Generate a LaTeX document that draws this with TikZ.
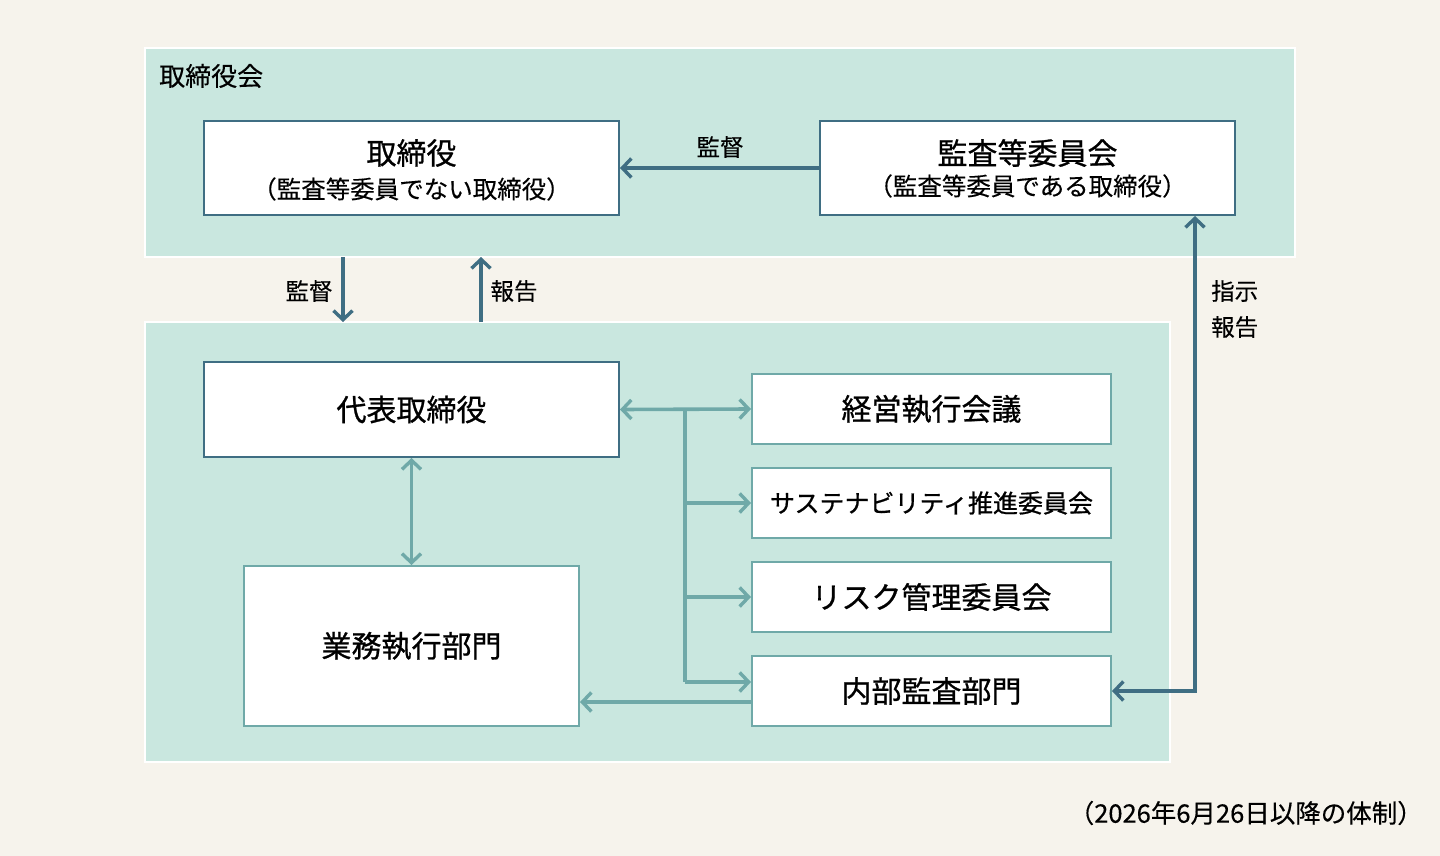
\documentclass[tikz,border=0pt]{standalone}
\usepackage{fontspec}
\setmainfont{Noto Sans CJK JP}
\newfontfamily\medfont{Noto Sans CJK JP}[FakeBold=0.8]
\newfontfamily\lblfont{Noto Sans CJK JP}[FakeBold=0.3]
\usetikzlibrary{arrows.meta}
\definecolor{bgc}{HTML}{F6F3EC}
\definecolor{panel}{HTML}{C9E7DF}
\definecolor{dblue}{HTML}{3F6E83}
\definecolor{teal}{HTML}{6FA9A8}
\tikzset{
  panelbox/.style={fill=panel,draw=white,line width=2pt},
  dbox/.style={draw=dblue,fill=white,line width=2pt,inner sep=0pt},
  tbox/.style={draw=teal,fill=white,line width=2pt,inner sep=0pt},
  dtip/.tip={Straight Barb[length=9pt,width=19pt,line width=3.4pt]},
  ttip/.tip={Straight Barb[length=9pt,width=19pt,line width=3.4pt]},
  darr/.style={draw=dblue,line width=3.6pt,-dtip},
  tarr/.style={draw=teal,line width=3.6pt,-ttip},
  lbl/.style={font=\lblfont\fontsize{23.5}{26}\selectfont,inner sep=0pt},
  sub/.style={font=\lblfont\fontsize{24.5}{26}\selectfont,inner sep=0pt},
  big/.style={font=\medfont\fontsize{30}{32}\selectfont,inner sep=0pt},
}
\begin{document}
\begin{tikzpicture}[x=1pt,y=-1pt]
\fill[bgc] (0,0) rectangle (1440,856);
\useasboundingbox (0,0) rectangle (1440,856);
% panels
\draw[panelbox] (145,48) rectangle (1295,257);
\draw[panelbox] (145,322) rectangle (1170,762);
\node[lbl,anchor=west,font=\lblfont\fontsize{26}{28}\selectfont] (t1) at (159,76) {取締役会};
% top boxes
\node[dbox,minimum width=415pt,minimum height=94pt] (tori) at (411.5,168) {};
\node[big] (torit) at (411.5,153) {取締役};
\node[sub] (toris) at (411.5,189) {（監査等委員でない取締役）};
\node[dbox,minimum width=415pt,minimum height=94pt] (kansa) at (1027.5,168) {};
\node[big] (kansat) at (1027.5,153) {監査等委員会};
\node[sub] (kansas) at (1027.5,186) {（監査等委員である取締役）};
\draw[darr] (kansa.west) -- (tori.east);
\node[lbl] (l1) at (720,147) {監督};
% between panels
\coordinate (a1s) at (343,257);
\coordinate (a1e) at (343,322);
\draw[darr] (a1s) -- (a1e);
\node[lbl] (l2) at (309,291) {監督};
\coordinate (a2s) at (481,322);
\coordinate (a2e) at (481,257);
\draw[darr] (a2s) -- (a2e);
\node[lbl] (l3) at (514,291) {報告};
% lower boxes
\node[dbox,minimum width=415pt,minimum height=95pt] (daihyo) at (411.5,409.5) {};
\node[big] at (daihyo) {代表取締役};
\node[tbox,minimum width=335pt,minimum height=160pt] (gyomu) at (411.5,646) {};
\node[big] at (gyomu) {業務執行部門};
\draw[tarr,ttip-ttip] (daihyo.south) -- (gyomu.north);
\node[tbox,minimum width=359pt,minimum height=70pt] (keiei) at (931.5,409) {};
\node[big] at (keiei) {経営執行会議};
\node[tbox,minimum width=359pt,minimum height=70pt] (sus) at (931.5,503) {};
\node[big,font=\medfont\fontsize{25}{27}\selectfont] at (sus) {サステナビリティ推進委員会};
\node[tbox,minimum width=359pt,minimum height=70pt] (risk) at (931.5,597) {};
\node[big] at (risk) {リスク管理委員会};
\node[tbox,minimum width=359pt,minimum height=70pt] (naibu) at (931.5,691) {};
\node[big] at (naibu) {内部監査部門};
% trunk
\coordinate (tr0) at (685,409);
\coordinate (tr1) at (685,503);
\coordinate (tr2) at (685,597);
\coordinate (tr3) at (685,682);
\draw[tarr,ttip-ttip] (daihyo.east) -- (keiei.west);
\draw[teal,line width=3.6pt] (tr0) -- (tr3);
\draw[tarr] (tr1) -- (sus.west);
\draw[tarr] (tr2) -- (risk.west);
\draw[tarr] (tr3) -- (naibu.west |- tr3);
\coordinate (nb) at (752,702);
\draw[tarr] (nb) -- (gyomu.east |- nb);
% right connector
\coordinate (rc) at (1195,691);
\draw[darr,dtip-dtip] (naibu.east) -- (rc) -- (kansa.south -| rc);
\node[lbl,anchor=west] (l4) at (1211,291) {指示};
\node[lbl,anchor=west] (l5) at (1211,327) {報告};
\node[lbl,anchor=east,font=\lblfont\fontsize{25.5}{27}\selectfont] (note) at (1423,813) {（2026年6月26日以降の体制）};
\end{tikzpicture}
\end{document}
